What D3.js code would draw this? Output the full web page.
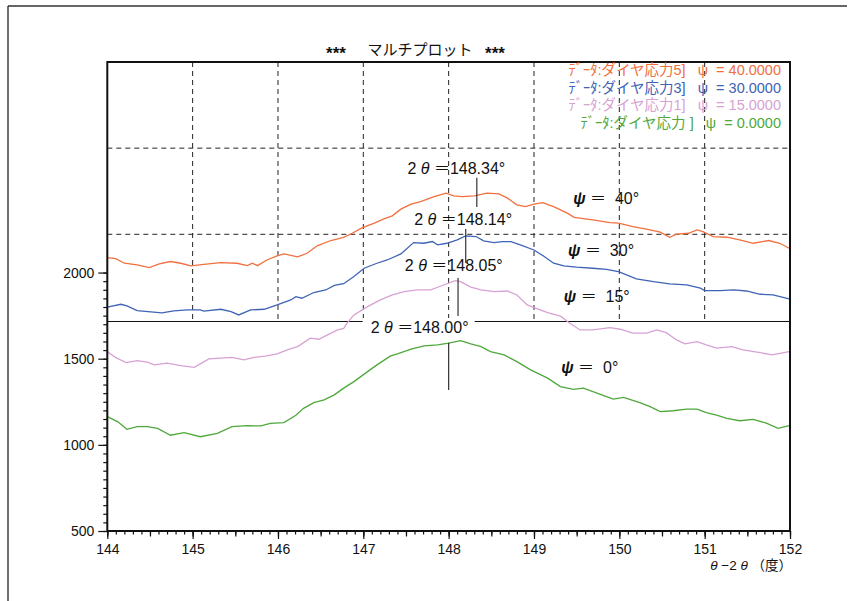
<!DOCTYPE html>
<meta charset="utf-8">
<style>
body { margin: 0; background: #fff; }
svg text { font-family: "Liberation Sans", Arial, "Noto Sans CJK JP", sans-serif; fill: #111; }
</style>
<script src="https://d3js.org/d3.v7.min.js"></script>
<div id="chart"></div>
<script>

// --- data: [2θ (deg), intensity] ---
var psi40 = [[144.00,2087],[144.10,2081],[144.20,2054],[144.35,2044],[144.49,2029],[144.61,2050],[144.74,2064],[144.86,2054],[144.98,2039],[145.13,2048],[145.33,2058],[145.52,2054],[145.64,2040],[145.70,2054],[145.76,2040],[145.87,2073],[145.99,2097],[146.07,2108],[146.23,2091],[146.34,2112],[146.46,2155],[146.62,2186],[146.77,2204],[146.87,2228],[146.99,2261],[147.13,2287],[147.24,2311],[147.34,2329],[147.44,2368],[147.56,2397],[147.67,2412],[147.83,2441],[147.97,2461],[148.06,2445],[148.16,2441],[148.30,2445],[148.45,2461],[148.59,2457],[148.69,2432],[148.80,2393],[148.90,2383],[149.00,2397],[149.10,2406],[149.23,2383],[149.39,2345],[149.47,2320],[149.69,2306],[149.89,2290],[149.99,2287],[150.16,2267],[150.36,2248],[150.48,2234],[150.59,2205],[150.67,2223],[150.81,2228],[150.91,2248],[150.98,2238],[151.10,2209],[151.26,2205],[151.41,2190],[151.57,2170],[151.75,2186],[151.88,2170],[151.99,2141]];

var psi30 = [[144.00,1799],[144.16,1816],[144.23,1806],[144.35,1779],[144.51,1772],[144.64,1766],[144.78,1777],[144.94,1783],[145.09,1783],[145.13,1776],[145.33,1787],[145.45,1773],[145.54,1754],[145.68,1783],[145.84,1787],[145.99,1812],[146.15,1841],[146.21,1860],[146.28,1851],[146.42,1884],[146.56,1899],[146.66,1925],[146.77,1935],[146.89,1977],[147.01,2025],[147.16,2054],[147.28,2073],[147.44,2108],[147.59,2174],[147.71,2170],[147.81,2180],[147.87,2161],[147.98,2170],[148.10,2190],[148.20,2213],[148.32,2209],[148.41,2184],[148.53,2174],[148.63,2180],[148.73,2180],[148.84,2161],[149.00,2131],[149.12,2093],[149.23,2054],[149.35,2039],[149.50,2031],[149.69,2025],[149.85,2019],[149.99,2005],[150.20,1963],[150.40,1947],[150.59,1934],[150.79,1928],[150.95,1909],[151.00,1895],[151.18,1895],[151.34,1899],[151.49,1893],[151.65,1874],[151.80,1870],[151.99,1847]];

var psi15 = [[144.00,1541],[144.10,1506],[144.22,1477],[144.35,1489],[144.47,1480],[144.55,1464],[144.70,1474],[144.86,1460],[145.02,1450],[145.09,1470],[145.19,1499],[145.33,1503],[145.46,1508],[145.60,1493],[145.72,1508],[145.87,1516],[145.99,1528],[146.11,1551],[146.23,1570],[146.38,1619],[146.48,1613],[146.58,1638],[146.70,1667],[146.77,1676],[146.81,1706],[146.89,1754],[147.05,1802],[147.20,1841],[147.34,1870],[147.48,1889],[147.63,1899],[147.79,1899],[147.91,1922],[148.08,1953],[148.14,1947],[148.26,1915],[148.38,1899],[148.53,1889],[148.69,1893],[148.80,1870],[148.92,1812],[149.00,1796],[149.16,1767],[149.31,1747],[149.42,1706],[149.54,1667],[149.69,1667],[149.89,1680],[150.01,1671],[150.16,1648],[150.32,1648],[150.44,1667],[150.55,1651],[150.67,1609],[150.77,1586],[150.91,1599],[151.02,1580],[151.14,1561],[151.32,1570],[151.45,1551],[151.65,1535],[151.79,1522],[151.99,1541]];

var psi0 = [[144.00,1164],[144.12,1135],[144.23,1090],[144.35,1106],[144.47,1106],[144.59,1096],[144.74,1056],[144.90,1071],[145.09,1047],[145.29,1067],[145.46,1106],[145.64,1111],[145.80,1110],[145.91,1125],[146.07,1129],[146.21,1172],[146.30,1212],[146.42,1245],[146.54,1261],[146.66,1290],[146.77,1329],[146.89,1367],[147.05,1425],[147.16,1464],[147.32,1516],[147.40,1528],[147.56,1555],[147.71,1574],[147.87,1580],[148.00,1590],[148.14,1605],[148.26,1586],[148.38,1570],[148.49,1541],[148.65,1522],[148.80,1483],[148.96,1435],[149.16,1387],[149.31,1338],[149.46,1322],[149.58,1329],[149.77,1294],[149.93,1266],[150.05,1276],[150.24,1245],[150.36,1222],[150.48,1193],[150.63,1198],[150.79,1207],[150.91,1207],[151.02,1187],[151.14,1173],[151.26,1154],[151.41,1140],[151.57,1148],[151.73,1125],[151.86,1096],[151.99,1111]];

var seriesColors = ["#f0703f", "#3f63b6", "#d7a2d3", "#4fa83c"];

var legendLabels = [
  "ﾃﾞｰﾀ:ダイヤ応力5]   ψ  = 40.0000",
  "ﾃﾞｰﾀ:ダイヤ応力3]   ψ  = 30.0000",
  "ﾃﾞｰﾀ:ダイヤ応力1]   ψ  = 15.0000",
  "ﾃﾞｰﾀ:ダイヤ応力 ]   ψ  = 0.0000"
];

// peak markers: label, marker position, marker span
var peakLabels = ["2θ＝148.34°", "2θ＝148.14°", "2θ＝148.05°", "2θ＝148.00°"];
var peakX = [148.33, 148.20, 148.11, 148.00];
var peakSpan = [[2550, 2381], [2253, 2056], [1969, 1748], [1592, 1319]];
var peakLabelAt = [[148.09, 2605], [148.17, 2311], [148.06, 2039], [147.66, 1684]];

var psiLabels = ["40°", "30°", "15°", "0°"];
var psiLabelAt = [[149.46, 2428], [149.40, 2131], [149.35, 1859], [149.32, 1452]];

var xTicks = [144, 145, 146, 147, 148, 149, 150, 151, 152];
var yTicks = [500, 1000, 1500, 2000];
var gridX = [145, 146, 147, 148, 149, 150, 151];
var gridY = [2222, 2722];
var baseLine = 1716;

// --- layout ---
var W = 851, H = 601;
var plot = {left: 107.3, right: 790, top: 62, bottom: 531};

var svg = d3.select("#chart").append("svg")
  .attr("width", W).attr("height", H);

// outer frame (only top and left edges are visible)
svg.append("line").attr("x1", 8).attr("y1", 6).attr("x2", 847).attr("y2", 6)
  .attr("stroke", "#333").attr("stroke-width", 1.4);
svg.append("line").attr("x1", 8).attr("y1", 6).attr("x2", 8).attr("y2", H)
  .attr("stroke", "#333").attr("stroke-width", 1.4);

var x = d3.scaleLinear().domain([144, 152]).range([plot.left, plot.right]);
var y = d3.scaleLinear().domain([500, 3222]).range([plot.bottom, plot.top]);

// grid
var grid = svg.append("g");
grid.selectAll(".gx").data(gridX).enter().append("line")
  .attr("x1", function(d) { return x(d); }).attr("x2", function(d) { return x(d); })
  .attr("y1", y(3222)).attr("y2", y(baseLine))
  .attr("stroke", "#222").attr("stroke-width", 1).attr("stroke-dasharray", "5,4");
grid.selectAll(".gy").data(gridY).enter().append("line")
  .attr("x1", x(144)).attr("x2", x(152))
  .attr("y1", function(d) { return y(d); }).attr("y2", function(d) { return y(d); })
  .attr("stroke", "#222").attr("stroke-width", 1).attr("stroke-dasharray", "5,4");
grid.append("line")
  .attr("x1", x(144)).attr("x2", x(152))
  .attr("y1", y(baseLine)).attr("y2", y(baseLine))
  .attr("stroke", "#111").attr("stroke-width", 1.2);

// curves
var line = d3.line()
  .x(function(d) { return x(d[0]); })
  .y(function(d) { return y(d[1]); });

var allSeries = [psi40, psi30, psi15, psi0];
svg.append("g").selectAll("path").data(allSeries).enter().append("path")
  .attr("d", line)
  .attr("fill", "none")
  .attr("stroke", function(d, i) { return seriesColors[i]; })
  .attr("stroke-width", 1.3);

// peak markers
var marks = svg.append("g");
marks.selectAll("line").data(peakX).enter().append("line")
  .attr("x1", function(d) { return x(d); }).attr("x2", function(d) { return x(d); })
  .attr("y1", function(d, i) { return y(peakSpan[i][0]); })
  .attr("y2", function(d, i) { return y(peakSpan[i][1]); })
  .attr("stroke", "#333").attr("stroke-width", 1.2);

var pl = marks.selectAll(".pl").data(peakLabels).enter().append("g")
  .attr("transform", function(d, i) {
    return "translate(" + x(peakLabelAt[i][0]) + "," + y(peakLabelAt[i][1]) + ")";
  });
pl.each(function(d, i) {
  var g = d3.select(this);
  if (i == 3) {
    g.append("rect").attr("x", -57).attr("y", -9).attr("width", 112).attr("height", 18)
      .attr("fill", "#fff");
  }
  var t = g.append("text")
    .attr("text-anchor", "middle").attr("dy", "0.35em")
    .style("font-size", "16px").style("white-space", "pre");
  t.append("tspan").text("2 ");
  t.append("tspan").style("font-style", "italic").text("θ");
  t.append("tspan").text(" " + d.slice(2));
});

// psi labels
var ps = marks.selectAll(".ps").data(psiLabels).enter().append("text")
  .attr("x", function(d, i) { return x(psiLabelAt[i][0]); })
  .attr("y", function(d, i) { return y(psiLabelAt[i][1]); })
  .attr("dy", "0.35em")
  .style("font-size", "16px").style("white-space", "pre");
ps.append("tspan").style("font-style", "italic").style("font-weight", "bold").text("ψ");
ps.append("tspan").text(" ＝  ");
ps.append("tspan").text(function(d) { return d; });

// axes
var xMinor = svg.append("g").attr("transform", "translate(0," + plot.bottom + ")")
  .call(d3.axisBottom(x).ticks(80).tickSize(3.5).tickFormat(""));
var xMid = svg.append("g").attr("transform", "translate(0," + plot.bottom + ")")
  .call(d3.axisBottom(x).ticks(16).tickSize(5.5).tickFormat(""));
var xMajor = svg.append("g").attr("transform", "translate(0," + plot.bottom + ")")
  .call(d3.axisBottom(x).tickValues(xTicks).tickSize(8).tickPadding(5).tickFormat(d3.format("d")));

var yMinor = svg.append("g").attr("transform", "translate(" + plot.left + ",0)")
  .call(d3.axisLeft(y).tickValues(d3.range(500, 2001, 50)).tickSize(4).tickFormat(""));
var yMajor = svg.append("g").attr("transform", "translate(" + plot.left + ",0)")
  .call(d3.axisLeft(y).tickValues(yTicks).tickSize(9).tickPadding(4).tickFormat(d3.format("d")));

[xMinor, xMid, xMajor, yMinor, yMajor].forEach(function(a) {
  a.select(".domain").remove();
  a.selectAll("line").attr("stroke", "#111").attr("stroke-width", 1.2);
  a.selectAll("text").style("font-size", "14px").attr("fill", "#111")
    .style("font-family", "'Liberation Sans', Arial, sans-serif");
});

// plot frame
svg.append("rect")
  .attr("x", plot.left).attr("y", plot.top)
  .attr("width", plot.right - plot.left).attr("height", plot.bottom - plot.top)
  .attr("fill", "none").attr("stroke", "#111").attr("stroke-width", 2);

// title
var title = svg.append("g").attr("transform", "translate(0,50)");
title.append("text").attr("x", 336).attr("dy", "0.5em").attr("text-anchor", "middle")
  .style("font-size", "17px").style("font-weight", "bold").text("***");
title.append("text").attr("x", 420).attr("dy", "0.35em").attr("text-anchor", "middle")
  .style("font-size", "15px").style("font-family", "'Noto Sans CJK JP', sans-serif").text("マルチプロット");
title.append("text").attr("x", 495).attr("dy", "0.5em").attr("text-anchor", "middle")
  .style("font-size", "17px").style("font-weight", "bold").text("***");

// legend
svg.append("g").selectAll("text").data(legendLabels).enter().append("text")
  .attr("x", 781)
  .attr("y", function(d, i) { return [70, 88, 105, 123][i]; })
  .attr("dy", "0.35em")
  .attr("text-anchor", "end")
  .style("font-size", "14.5px").style("white-space", "pre")
  .style("fill", function(d, i) { return seriesColors[i]; })
  .text(function(d) { return d; });

// x-axis title
var xt = svg.append("text").attr("x", 792).attr("y", 565).attr("dy", "0.35em")
  .attr("text-anchor", "end").style("font-size", "13.5px").style("white-space", "pre");
xt.append("tspan").style("font-style", "italic").text("θ");
xt.append("tspan").text(" −2 ");
xt.append("tspan").style("font-style", "italic").text("θ");
xt.append("tspan").text(" （度）");

</script>
